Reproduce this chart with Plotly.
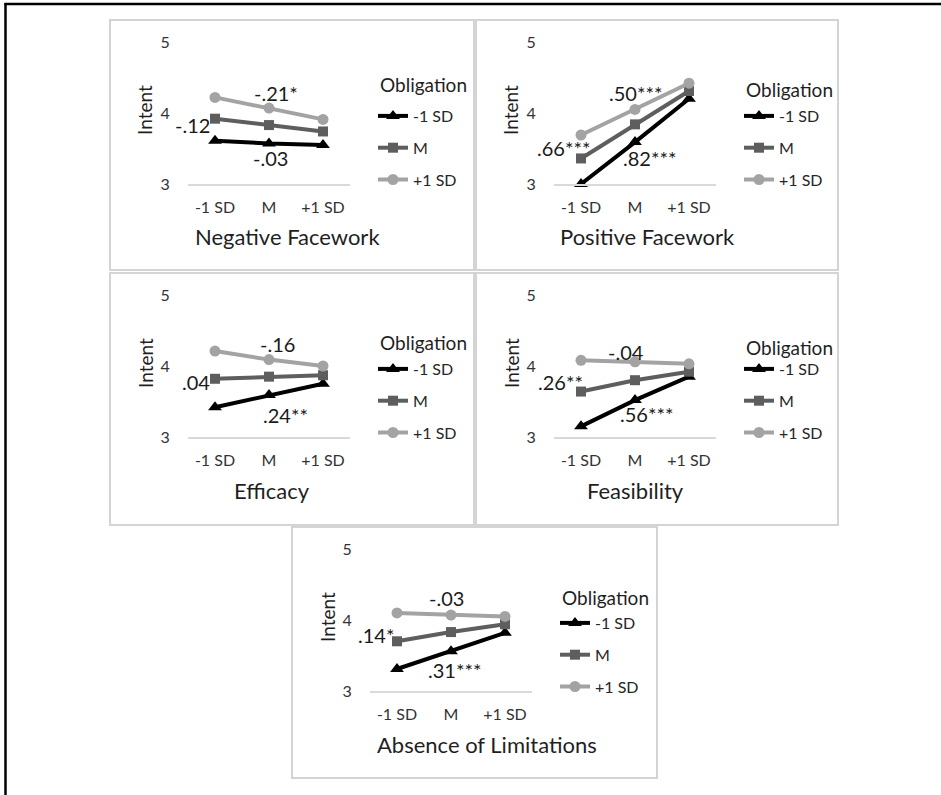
import plotly.graph_objects as go

W, H = 941, 795

# ---------------- data ----------------
categories = ["-1 SD", "M", "+1 SD"]
series_names = ["-1 SD", "M", "+1 SD"]
y_ticks = [3, 4, 5]
panel_titles = ["Negative Facework", "Positive Facework", "Efficacy",
                "Feasibility", "Absence of Limitations"]

neg_low = [3.61, 3.57, 3.55]
neg_mid = [3.92, 3.83, 3.74]
neg_high = [4.22, 4.07, 3.91]

pos_low = [3.00, 3.59, 4.20]
pos_mid = [3.36, 3.84, 4.31]
pos_high = [3.69, 4.05, 4.42]

eff_low = [3.42, 3.59, 3.75]
eff_mid = [3.82, 3.85, 3.87]
eff_high = [4.21, 4.09, 4.00]

fea_low = [3.15, 3.52, 3.85]
fea_mid = [3.64, 3.80, 3.92]
fea_high = [4.08, 4.06, 4.03]

abs_low = [3.31, 3.56, 3.82]
abs_mid = [3.70, 3.83, 3.94]
abs_high = [4.10, 4.07, 4.05]

# slope labels: (high, mid, low)
neg_slopes = ["-.21*", "-.12", "-.03"]
pos_slopes = [".50***", ".66***", ".82***"]
eff_slopes = ["-.16", ".04", ".24**"]
fea_slopes = ["-.04", ".26**", ".56***"]
abs_slopes = ["-.03", ".14*", ".31***"]

panels_data = [
    (neg_low, neg_mid, neg_high, neg_slopes),
    (pos_low, pos_mid, pos_high, pos_slopes),
    (eff_low, eff_mid, eff_high, eff_slopes),
    (fea_low, fea_mid, fea_high, fea_slopes),
    (abs_low, abs_mid, abs_high, abs_slopes),
]

# ---------------- layout / style ----------------
FONT = "Lato"
colors = ["#000000", "#5e5e5e", "#a3a3a3"]
symbols = ["triangle-up", "square", "circle"]
msizes = [12, 10, 11]

# panel origins in pixels
origins = [(110, 20), (476, 20), (110, 273), (476, 273), (292, 527)]
panel_sizes = [(364, 250), (362, 250), (364, 252), (362, 252), (365, 251)]
oblig_rel_y = [65, 70, 69, 74, 70]
xtitle_rel_x = [177, 171, 162, 159, 195]
# slope-label positions (category index, value) for (high, mid, low)
label_pos = [
    [(1.13, 4.28), (-0.41, 3.83), (1.02, 3.36)],
    [(1.00, 4.28), (-0.33, 3.51), (1.27, 3.36)],
    [(1.16, 4.31), (-0.36, 3.77), (1.30, 3.31)],
    [(0.83, 4.20), (-0.38, 3.77), (1.21, 3.33)],
    [(0.91, 4.31), (-0.38, 3.79), (1.06, 3.29)],
]


def px(x):
    return x / W


def py(y):
    return 1 - y / H


fig = go.Figure()
annotations = []
shapes = []
layout_axes = {}

for i, ((ox, oy), (low, mid, high, slopes)) in enumerate(zip(origins, panels_data)):
    n = i + 1
    sfx = "" if n == 1 else str(n)
    xa, ya = "x" + sfx, "y" + sfx
    leg = "legend" + sfx

    for k, (vals, name) in enumerate(zip([low, mid, high], series_names)):
        fig.add_trace(go.Scatter(
            x=list(range(len(categories))), y=vals, name=name,
            mode="lines+markers", xaxis=xa, yaxis=ya,
            line=dict(color=colors[k], width=4),
            marker=dict(color=colors[k], symbol=symbols[k], size=msizes[k]),
            cliponaxis=False, legend=leg, legendgroup=f"p{n}_{k}",
            hoverinfo="skip",
        ))

    layout_axes["xaxis" + sfx] = dict(
        domain=[px(ox + 78), px(ox + 240)], anchor=ya,
        range=[-0.5, 2.5], tickvals=[0, 1, 2], ticktext=categories,
        showgrid=False, zeroline=False, showline=True,
        linecolor="#d9d9d9", linewidth=1.5,
        ticks="outside", ticklen=8, tickcolor="rgba(0,0,0,0)",
        tickfont=dict(family=FONT, size=16, color="#333333"),
        fixedrange=True, automargin=False,
    )
    layout_axes["yaxis" + sfx] = dict(
        domain=[py(oy + 164), py(oy + 22)], anchor=xa,
        range=[3, 5], tickvals=y_ticks,
        showgrid=False, zeroline=False, showline=False,
        ticks="outside", ticklen=14, tickcolor="rgba(0,0,0,0)",
        tickfont=dict(family=FONT, size=16, color="#333333"),
        fixedrange=True, automargin=False,
    )
    layout_axes[leg] = dict(
        x=px(ox + 263), xanchor="left",
        y=py(oy + 79), yanchor="top",
        font=dict(family=FONT, size=16, color="#262626"),
        bgcolor="rgba(0,0,0,0)", tracegroupgap=8,
        itemclick=False, itemdoubleclick=False,
    )

    # panel box
    pw, ph = panel_sizes[i]
    shapes.append(dict(type="rect", xref="paper", yref="paper",
                       x0=px(ox), x1=px(ox + pw), y0=py(oy + ph), y1=py(oy),
                       line=dict(color="#d4d4d4", width=2)))

    # titles
    annotations.append(dict(text="Obligation", xref="paper", yref="paper",
                            x=px(ox + 268), y=py(oy + oblig_rel_y[i]),
                            xanchor="left", yanchor="middle", showarrow=False,
                            font=dict(family=FONT, size=19, color="#1f1f1f")))
    annotations.append(dict(text="Intent", xref="paper", yref="paper",
                            x=px(ox + 35), y=py(oy + 90), textangle=-90,
                            xanchor="center", yanchor="middle", showarrow=False,
                            font=dict(family=FONT, size=19, color="#1f1f1f")))
    annotations.append(dict(text=panel_titles[i], xref="paper", yref="paper",
                            x=px(ox + xtitle_rel_x[i]), y=py(oy + 217),
                            xanchor="center", yanchor="middle", showarrow=False,
                            font=dict(family=FONT, size=22, color="#1f1f1f")))
    # slope labels
    for (lx, ly), txt in zip(label_pos[i], slopes):
        annotations.append(dict(text=txt, xref=xa, yref=ya, x=lx, y=ly,
                                xanchor="center", yanchor="middle", showarrow=False,
                                font=dict(family=FONT, size=20, color="#1a1a1a")))

# outer black frame (top and left edges)
shapes.append(dict(type="line", xref="paper", yref="paper",
                   x0=px(5.5), x1=px(5.5), y0=0, y1=py(3),
                   line=dict(color="black", width=2.5)))
shapes.append(dict(type="line", xref="paper", yref="paper",
                   x0=px(4.5), x1=1, y0=py(4), y1=py(4),
                   line=dict(color="black", width=2.5)))

fig.update_layout(
    width=W, height=H, autosize=False,
    margin=dict(l=0, r=0, t=0, b=0, pad=0, autoexpand=False),
    paper_bgcolor="white", plot_bgcolor="white",
    annotations=annotations, shapes=shapes,
    showlegend=True,
    **layout_axes,
)

fig.write_html(
    "out.html",
    config={"displayModeBar": False},
    post_script=(
        "document.documentElement.style.margin='0px';"
        "document.body.style.margin='0px';"
        "document.body.style.padding='0px';"
        "document.body.style.overflow='hidden';"
        "var d=document.getElementById('{plot_id}');"
        "d.style.position='fixed';d.style.top='0px';d.style.left='0px';"
    ),
)
